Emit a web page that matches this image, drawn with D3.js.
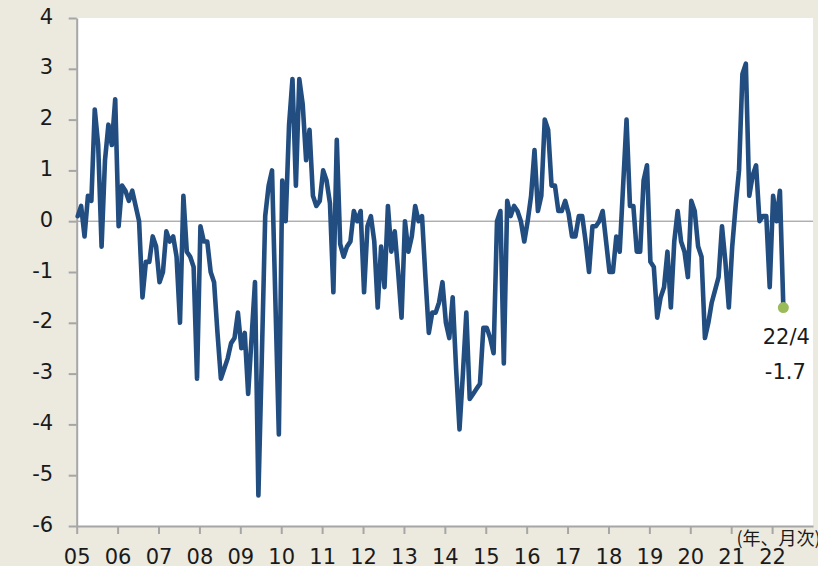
<!DOCTYPE html>
<html><head><meta charset="utf-8">
<script src="https://cdn.jsdelivr.net/npm/d3@7"></script>
<style>
html,body{margin:0;padding:0;background:#ece9df;}
svg{display:block;}
</style></head>
<body>
<svg id="chart" width="818" height="566"></svg>
<script>
// ---- data (monthly, Jan 2005 – Apr 2022) ----
const yearLabels = ["05","06","07","08","09","10","11","12","13","14","15","16","17","18","19","20","21","22"];
const yTickValues = [-6,-5,-4,-3,-2,-1,0,1,2,3,4];
const v2005 = [0.1, 0.3, -0.3, 0.5, 0.4, 2.2, 1.5, -0.5, 1.2, 1.9, 1.5, 2.4];
const v2006 = [-0.1, 0.7, 0.6, 0.4, 0.6, 0.3, 0.0, -1.5, -0.8, -0.8, -0.3, -0.5];
const v2007 = [-1.2, -1.0, -0.2, -0.4, -0.3, -0.7, -2.0, 0.5, -0.6, -0.7, -0.9, -3.1];
const v2008 = [-0.1, -0.4, -0.4, -1.0, -1.2, -2.2, -3.1, -2.9, -2.7, -2.4, -2.3, -1.8];
const v2009 = [-2.5, -2.2, -3.4, -2.3, -1.2, -5.4, -2.7, 0.1, 0.7, 1.0, -1.6, -4.2];
const v2010 = [0.8, 0.0, 1.9, 2.8, 0.7, 2.8, 2.3, 1.2, 1.8, 0.5, 0.3, 0.4];
const v2011 = [1.0, 0.8, 0.35, -1.4, 1.6, -0.45, -0.7, -0.5, -0.4, 0.2, 0.0, 0.2];
const v2012 = [-1.4, -0.1, 0.1, -0.4, -1.7, -0.5, -1.3, 0.3, -0.6, -0.2, -1.0, -1.9];
const v2013 = [0.0, -0.6, -0.3, 0.3, 0.0, 0.1, -1.1, -2.2, -1.8, -1.8, -1.6, -1.2];
const v2014 = [-2.0, -2.3, -1.5, -2.9, -4.1, -3.0, -1.8, -3.5, -3.4, -3.3, -3.2, -2.1];
const v2015 = [-2.1, -2.3, -2.6, 0.0, 0.2, -2.8, 0.4, 0.1, 0.3, 0.2, 0.0, -0.4];
const v2016 = [0.0, 0.5, 1.4, 0.2, 0.5, 2.0, 1.8, 0.7, 0.7, 0.2, 0.2, 0.4];
const v2017 = [0.15, -0.3, -0.3, 0.1, 0.1, -0.4, -1.0, -0.1, -0.1, 0.0, 0.2, -0.4];
const v2018 = [-1.0, -1.0, -0.3, -0.6, 0.7, 2.0, 0.3, 0.3, -0.6, -0.6, 0.8, 1.1];
const v2019 = [-0.8, -0.9, -1.9, -1.5, -1.3, -0.6, -1.7, -0.4, 0.2, -0.4, -0.6, -1.1];
const v2020 = [0.4, 0.2, -0.5, -0.7, -2.3, -2.0, -1.6, -1.35, -1.1, -0.1, -0.8, -1.7];
const v2021 = [-0.5, 0.3, 1.0, 2.9, 3.1, 0.5, 0.9, 1.1, 0.0, 0.1, 0.1, -1.3];
const v2022 = [0.5, 0.0, 0.6, -1.7];
const startYear = 2005;
const lastLabel = "22/4";
const unitLabel = "(年、月次)";

const values = [].concat(v2005,v2006,v2007,v2008,v2009,v2010,v2011,v2012,v2013,v2014,v2015,v2016,v2017,v2018,v2019,v2020,v2021,v2022);
const series = values.map((v,i)=>({t: startYear + (i+0.3)/12, v}));

// ---- layout ----
const svg = d3.select("#chart");
const L = 76.7, R = 813, T = 18, B = 526;
const x = d3.scaleLinear().domain([2005, 2023]).range([L, R]);
const y = d3.scaleLinear().domain([-6, 4]).range([B, T]);
const FONT = "'DejaVu Sans', Verdana, sans-serif";
const AXIS = "#a6a6a6";

svg.append("rect").attr("x", L).attr("y", T).attr("width", R - L).attr("height", B - T).attr("fill", "#ffffff");

// zero line
svg.append("line").attr("x1", L).attr("x2", R).attr("y1", y(0)).attr("y2", y(0))
  .attr("stroke", "#8c8c8c").attr("stroke-width", 1);

// y axis
const gy = svg.append("g").attr("transform", `translate(${L},0)`)
  .call(d3.axisLeft(y).tickValues(yTickValues).tickSize(8).tickSizeOuter(0).tickPadding(24)
    .tickFormat(d => String(d)));
gy.select(".domain").attr("stroke", AXIS).attr("stroke-width", 2);
gy.selectAll(".tick line").attr("stroke", AXIS).attr("stroke-width", 2);
gy.selectAll(".tick text").attr("font-family", FONT).attr("font-size", 21).attr("fill", "#1a1a1a")
  .attr("x", -23.5).attr("dy", 5);

// x axis
const gx = svg.append("g").attr("transform", `translate(0,${B})`)
  .call(d3.axisBottom(x).tickValues(d3.range(2005, 2023)).tickSize(8).tickSizeOuter(0)
    .tickFormat((d, i) => yearLabels[i]));
gx.select(".domain").attr("stroke", AXIS).attr("stroke-width", 2);
gx.selectAll(".tick line").attr("stroke", AXIS).attr("stroke-width", 2);
gx.selectAll(".tick text").attr("font-family", FONT).attr("font-size", 21).attr("fill", "#1a1a1a")
  .attr("y", 38).attr("dy", 0);

// unit label
svg.append("text").attr("x", 736.5).attr("y", 545).attr("font-family", "'Noto Sans CJK JP', sans-serif")
  .attr("font-size", 18).attr("fill", "#1a1a1a").text(unitLabel);

// line
const line = d3.line().x(d => x(d.t)).y(d => y(d.v));
svg.append("path").datum(series).attr("d", line).attr("fill", "none")
  .attr("stroke", "#214d80").attr("stroke-width", 4.6)
  .attr("stroke-linejoin", "round").attr("stroke-linecap", "round");

// last point
const last = series[series.length - 1];
svg.append("circle").attr("cx", x(last.t)).attr("cy", y(last.v)).attr("r", 5.5).attr("fill", "#9bbb59");
svg.append("text").attr("x", x(last.t) + 3).attr("y", y(last.v) + 36).attr("text-anchor", "middle")
  .attr("font-family", FONT).attr("font-size", 21).attr("fill", "#1a1a1a").text(lastLabel);
svg.append("text").attr("x", x(last.t) + 2).attr("y", y(last.v) + 71).attr("text-anchor", "middle")
  .attr("font-family", FONT).attr("font-size", 21).attr("fill", "#1a1a1a").text(String(last.v));
</script>
</body></html>
